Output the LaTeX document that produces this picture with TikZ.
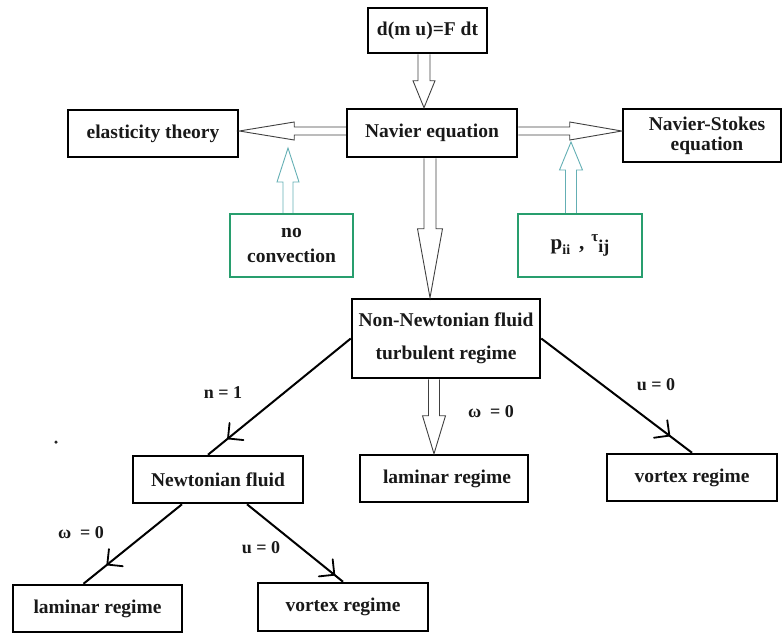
\documentclass[tikz,border=0pt]{standalone}
\usepackage{fontspec}
\setmainfont{Liberation Serif}
\usetikzlibrary{arrows.meta,decorations.markings,calc}
\definecolor{gbox}{RGB}{40,158,110}
\definecolor{garr}{RGB}{100,175,180}
\definecolor{txt}{RGB}{25,25,25}
\newcommand\BlkDown[6]{\draw[#1] let \p1=#2, \p2=#3 in
 (\x2-#4pt,\y1) -- (\x2-#4pt,\y2+#6pt) -- (\x2-#5pt,\y2+#6pt) -- (\x2,\y2) -- (\x2+#5pt,\y2+#6pt) -- (\x2+#4pt,\y2+#6pt) -- (\x2+#4pt,\y1);}
\newcommand\BlkUp[6]{\draw[#1] let \p1=#2, \p2=#3 in
 (\x2-#4pt,\y1) -- (\x2-#4pt,\y2-#6pt) -- (\x2-#5pt,\y2-#6pt) -- (\x2,\y2) -- (\x2+#5pt,\y2-#6pt) -- (\x2+#4pt,\y2-#6pt) -- (\x2+#4pt,\y1);}
\newcommand\BlkLeft[6]{\draw[#1] let \p1=#2, \p2=#3 in
 (\x1,\y2+#4pt) -- (\x2+#6pt,\y2+#4pt) -- (\x2+#6pt,\y2+#5pt) -- (\x2,\y2) -- (\x2+#6pt,\y2-#5pt) -- (\x2+#6pt,\y2-#4pt) -- (\x1,\y2-#4pt);}
\newcommand\BlkRight[6]{\draw[#1] let \p1=#2, \p2=#3 in
 (\x1,\y2+#4pt) -- (\x2-#6pt,\y2+#4pt) -- (\x2-#6pt,\y2+#5pt) -- (\x2,\y2) -- (\x2-#6pt,\y2-#5pt) -- (\x2-#6pt,\y2-#4pt) -- (\x1,\y2-#4pt);}
\tikzset{
  box/.style={draw=black, line width=2.5pt, inner sep=0pt, text=txt, align=center,
    font=\fontsize{19.5}{22}\selectfont\bfseries},
  gbx/.style={box, draw=gbox},
  blk/.style={draw=black!75, line width=0.9pt},
  gblk/.style={draw=garr, line width=0.9pt},
  conn/.style={draw=black, line width=2pt},
  midarr/.style={decoration={markings, mark=at position #1 with {\draw[line width=1.8pt, line cap=round] (-11pt,11pt) -- (0pt,0pt) -- (-11pt,-11pt);}}, postaction={decorate}},
  lbl/.style={text=txt, inner sep=0pt, font=\fontsize{18}{20}\selectfont\bfseries}
}
\begin{document}
\begin{tikzpicture}[x=1pt,y=-1pt]
\useasboundingbox (0,0) rectangle (784,635);
% boxes
\node[box, minimum width=119pt, minimum height=45pt] (top) at (427.5,30.5) {d(m u)=F dt};
\node[box, minimum width=170pt, minimum height=48pt] (nav) at (432,133) {Navier equation};
\node[box, minimum width=170pt, minimum height=47pt] (el) at (153,133.5) {elasticity theory};
\node[box, minimum width=158pt, minimum height=53pt, font=\fontsize{19.5}{20}\selectfont\bfseries] (ns) at (702,135.5) {\hspace*{10pt}Navier-Stokes\\\hspace*{10pt}equation};
\node[gbx, minimum width=123pt, minimum height=63pt, font=\fontsize{19.5}{25}\selectfont\bfseries] (nc) at (291.5,245.5) {no\\convection};
\node[gbx, minimum width=124pt, minimum height=63pt] (pb) at (580,245.5) {\raisebox{4pt}{\fontsize{21}{21}\selectfont p\raisebox{-5pt}{\fontsize{14}{14}\selectfont ii}\hspace{9pt},\hspace{7pt}\raisebox{8pt}{\fontsize{15}{15}\selectfont τ}\raisebox{-3pt}{\fontsize{18}{18}\selectfont ij}}};
\node[box, minimum width=188pt, minimum height=79pt, font=\fontsize{19.5}{33}\selectfont\bfseries] (nn) at (446,338.5) {Non-Newtonian fluid\\turbulent regime};
\node[box, minimum width=168pt, minimum height=47pt] (lm) at (444,478.5) {\hspace*{6pt}laminar regime};
\node[box, minimum width=170pt, minimum height=47pt] (vr) at (692,477.5) {vortex regime};
\node[box, minimum width=170pt, minimum height=47pt] (newt) at (218,479.5) {Newtonian fluid};
\node[box, minimum width=169pt, minimum height=47pt] (lb) at (97.5,608.5) {laminar regime};
\node[box, minimum width=170pt, minimum height=48pt] (vb) at (343,607) {vortex regime};
% free ends of the green arrows
\coordinate (ncTip) at (288,148);
\coordinate (pbTip) at (571,142);
% block arrows
\BlkDown{blk}{(top.south)}{([xshift=-8pt]nav.north)}{6}{11}{27}
\BlkLeft{blk}{(nav.west)}{([yshift=2.5pt]el.east)}{4}{9}{55}
\BlkRight{blk}{(nav.east)}{([yshift=4.5pt]ns.west)}{4}{9}{52}
\BlkUp{gblk}{([xshift=-3.5pt]nc.north)}{(ncTip)}{5}{11}{34}
\BlkUp{gblk}{([xshift=-9pt]pb.north)}{(pbTip)}{5.5}{11.5}{28}
\BlkDown{blk}{(nav.south)}{([xshift=-16pt]nn.north)}{6}{12.5}{69}
\BlkDown{blk}{(nn.south)}{([xshift=-10pt]lm.north)}{5.5}{11.5}{38}
% line connectors
\draw[conn, midarr=0.86] (nn.west) -- ([xshift=-10pt]newt.north);
\draw[conn, midarr=0.85] (nn.east) -- (vr.north);
\draw[conn, midarr=0.76] ([xshift=-36pt]newt.south) -- ([xshift=-14pt]lb.north);
\draw[conn, midarr=0.91] ([xshift=29pt]newt.south) -- (vb.north);
% labels
\node[lbl] (l1) at (223,393) {n = 1};
\node[lbl] (l2) at (491,412) {ω\ \ = 0};
\node[lbl] (l3) at (656,385) {u = 0};
\node[lbl] (l4) at (81,533) {ω\ \ = 0};
\node[lbl] (l5) at (261,548) {u = 0};
\node[circle, fill=black!85, inner sep=0pt, minimum size=3.5pt] (dot) at (56,442) {};
\end{tikzpicture}
\end{document}
